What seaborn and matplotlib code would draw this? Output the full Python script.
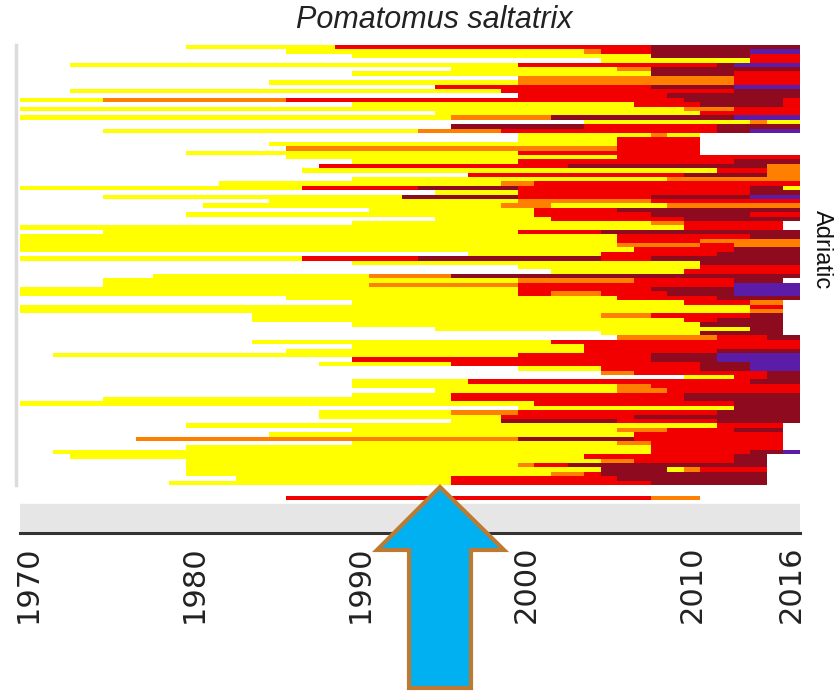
import numpy as np
import pandas as pd
import seaborn as sns
import matplotlib
matplotlib.use("Agg")
import matplotlib.pyplot as plt
from matplotlib.colors import ListedColormap
from matplotlib.patches import Polygon

# ---------------- data ----------------
YEARS = list(range(1970, 2017))
CATEGORY_CODES = ["Y", "O", "R", "D", "P"]
CATEGORY_COLORS = ["#FFFF00", "#FF8000", "#F20000", "#8E0A1E", "#5B1DA8"]
TICK_YEARS = [1970, 1980, 1990, 2000, 2010, 2016]
SPECIES = "Pomatomus saltatrix"
REGION_LABEL = "Adriatic"

# each row: "<code><start year> ..." ; optional "E<year>" = exclusive end year (default 2017)
ADRIATIC_ROWS = [
    "Y1980 R1989 D2008",
    "Y1986 O2004 R2005 D2008 P2014",
    "Y1990 D2008 R2014",
    "Y2005 R2014",
    "Y1973 R2000 D2012 P2013",
    "Y1996 O2006 D2008",
    "Y1990 D2008 R2013",
    "O2000 R2013",
    "Y1985 O2000 R2013",
    "R1995 D2008 P2013",
    "Y1973 R1999 D2013",
    "R2000 D2009",
    "Y1970 O1975 R1986 D2010 R2016",
    "Y1990 R2007 D2011 R2016",
    "Y1970 O2010 R2013",
    "Y1995 R2011",
    "Y1970 O1996 D2002 P2013",
    "Y2004 O2014 Y2015",
    "D1996 R2004 D2012",
    "Y1975 O1994 R1999 D2012 P2014",
    "Y2000 O2008 Y2009 E2011",
    "Y2000 R2006 E2011",
    "Y1985 R2006 E2011",
    "O1986 R2006 E2011",
    "Y1980 R2000 E2011",
    "Y1986 R2006",
    "Y1990 R2000 D2013",
    "R1988 D2003 O2015",
    "Y1987 R2012 O2015",
    "R1997 D2010 O2015",
    "Y1990 O2009",
    "Y1982 O1999 R2001",
    "Y1970 R1987 D1994 R2000 D2014 Y2016",
    "Y1995 R2000 D2014",
    "Y1975 D1993 R2000 D2008 P2014",
    "Y1985 O2000 R2008",
    "Y1981 O1999 Y2002 O2009",
    "Y1991 R2001 D2006",
    "Y1980 R2001 D2008 R2014",
    "Y1995 R2002 D2010",
    "Y1990 O2008 R2010 E2016",
    "Y1970 R2010 E2016",
    "Y1975 R2000 D2005",
    "Y1970 R2006 D2014",
    "Y1970 R2006 O2011",
    "Y1970 O2006 R2011 O2013",
    "Y1970 R2007 D2013",
    "Y1997 R2005 D2012",
    "Y1970 R1987 D1994 R2005 D2008",
    "Y1990 D2011",
    "Y2000 R2011",
    "Y2002 R2010",
    "Y1978 O1991 D1996",
    "Y1975 O2000 R2007 D2013 E2016",
    "Y1975 O1991 R2000 P2013",
    "Y1970 R2000 D2008 P2013",
    "Y1970 R2000 O2002 R2005 D2009 P2013",
    "Y1986 R2006 D2012",
    "Y1990 R2010 O2014 E2016",
    "Y1970 R2014 E2016",
    "Y1970 O2014 E2016",
    "Y1984 O2005 R2008 D2014 E2016",
    "Y1984 R2010 D2012 E2016",
    "Y1990 D2011 E2016",
    "Y1995 D2014 E2016",
    "Y2005 D2011 E2016",
    "O2006 R2012 D2015",
    "Y1984 R2002",
    "Y1990 R2004",
    "Y1986 R2004 D2012",
    "Y1972 R2000 D2008 P2012",
    "R1990 D2008 P2012",
    "Y1988 R1996 D2011 P2014",
    "Y2000 R2005 D2011 P2014",
    "O2005 R2007 D2015",
    "Y2010 R2013 D2015",
    "Y1990 R1997 D2014",
    "Y1990 O2006 R2008",
    "Y1995 O2006 R2009",
    "Y1990 R1996 D2010",
    "Y1975 R1996 D2010",
    "Y1970 R2001 D2013",
    "Y2000 D2013",
    "Y1988 O1996 R2000 D2012",
    "Y1988 R1999 D2007",
    "Y1996 D1999 R2006 D2012",
    "Y1980 R2012 E2016",
    "Y1990 O2006 R2009 D2013 E2016",
    "Y1985 R2007 E2016",
    "O1977 D2000 R2007 E2016",
    "Y1990 O2006 R2008 E2016",
    "Y1980 R2008 E2016",
    "Y1972 R2008 D2014 P2016",
    "Y1973 R2004 D2013 E2015",
    "Y1980 O2005 R2007 D2013 E2015",
    "Y1980 O2000 R2001 D2003 E2015",
    "Y1980 D2005 Y2009 O2010 R2011 E2015",
    "Y1980 O2002 R2004 D2005 E2015",
    "Y1983 R1996 D2006 E2015",
    "Y1979 R1996 D2008 E2015",
]
OTHER_ROWS = ["R1986 O2008 E2011"]


def expand(row):
    vals = np.full(len(YEARS), np.nan)
    end = YEARS[-1] + 1
    segs = []
    for tok in row.split():
        if tok[0] == "E":
            end = int(tok[1:])
        else:
            segs.append((int(tok[1:]), CATEGORY_CODES.index(tok[0])))
    for k, (start, code) in enumerate(segs):
        stop = segs[k + 1][0] if k + 1 < len(segs) else end
        for yr in range(start, stop):
            vals[yr - YEARS[0]] = code
    return vals


df_main = pd.DataFrame([expand(r) for r in ADRIATIC_ROWS], columns=YEARS)
df_other = pd.DataFrame([expand(r) for r in OTHER_ROWS], columns=YEARS)

# ---------------- plot ----------------
sns.set_theme(style="white")
plt.rcParams["font.family"] = ["DejaVu Sans"]
cmap = ListedColormap(CATEGORY_COLORS)

W, H = 837, 691
fig = plt.figure(figsize=(W / 100, H / 100), dpi=100)
fig.patch.set_facecolor("white")


def fx(px):
    return px / W


def fy(py):
    return 1 - py / H


ax = fig.add_axes([fx(20), fy(485), fx(800) - fx(20), fy(45) - fy(485)])
sns.heatmap(df_main, ax=ax, cmap=cmap, vmin=-0.5, vmax=4.5, cbar=False,
            xticklabels=False, yticklabels=False)
ax.set_xlim(0, len(YEARS))
ax.set_ylim(len(ADRIATIC_ROWS), 0)
ax.set_xlabel("")
ax.set_ylabel("")
ax.spines["left"].set_visible(True)
ax.spines["left"].set_color("#DCDCDC")
ax.spines["left"].set_linewidth(2.5)
ax.spines["left"].set_position(("outward", 3))

ax2 = fig.add_axes([fx(20), fy(533), fx(800) - fx(20), fy(493) - fy(533)])
ax2.axhspan(1.9, 9.0, color="#E6E6E6", zorder=0)
sns.heatmap(df_other, ax=ax2, cmap=cmap, vmin=-0.5, vmax=4.5, cbar=False,
            xticklabels=False, yticklabels=False)
ax2.set_xlim(0, len(YEARS))
ax2.set_ylim(9.0, -0.7)
ax2.set_xlabel("")
ax2.set_ylabel("")
ax2.spines["bottom"].set_visible(True)
ax2.spines["bottom"].set_color("#333333")
ax2.spines["bottom"].set_linewidth(2.2)
ax2.set_xticks([y - YEARS[0] + 0.5 for y in TICK_YEARS])
ax2.set_xticklabels([str(y) for y in TICK_YEARS], rotation=90,
                    fontsize=22, color="#222222")
ax2.tick_params(axis="x", length=0, pad=9, bottom=True)

fig.text(fx(434), fy(20), SPECIES, fontsize=22, style="italic",
         family=["Liberation Sans", "DejaVu Sans"], color="#222222",
         ha="center", va="center")
fig.text(fx(822), fy(250), REGION_LABEL, fontsize=17, rotation=-90,
         family=["Liberation Sans", "DejaVu Sans"], color="#111111",
         ha="center", va="center")

arrow_px = [(440, 487), (504, 550), (471, 550), (471, 688),
            (409, 688), (409, 550), (377, 550)]
arrow = Polygon([(fx(x), fy(y)) for x, y in arrow_px], closed=True,
                transform=fig.transFigure, facecolor="#00B0F0",
                edgecolor="#BC7A32", linewidth=3, joinstyle="miter", zorder=10)
fig.add_artist(arrow)

fig.savefig("out.png", dpi=100, facecolor="white")
